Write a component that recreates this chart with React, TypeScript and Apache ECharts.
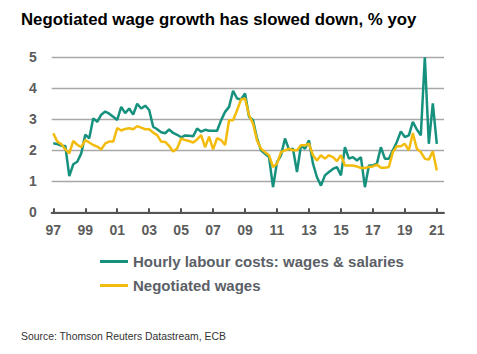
import React, { useEffect, useRef } from "react";
import * as echarts from "echarts";

// Quarterly data, 1997Q1 .. 2021Q1 (97 quarters)
const hourlyLabourCosts: number[] = [
  2.23, 2.2, 2.15, 2.14, 1.17, 1.55, 1.63, 1.9, 2.5, 2.39,
  3.03, 2.92, 3.15, 3.25, 3.18, 3.08, 2.98, 3.4, 3.2, 3.35,
  3.15, 3.5, 3.35, 3.44, 3.3, 2.76, 2.68, 2.58, 2.55, 2.67,
  2.56, 2.5, 2.42, 2.48, 2.47, 2.45, 2.7, 2.6, 2.66, 2.63,
  2.63, 2.63, 2.97, 3.24, 3.4, 3.92, 3.67, 3.64, 3.83, 3.08,
  2.97, 2.38, 2.0, 1.89, 1.78, 0.81, 1.62, 1.84, 2.38, 2.02,
  2.05, 1.3, 2.16, 2.05, 2.32, 1.57, 1.13, 0.86, 1.19, 1.3,
  1.4, 1.46, 1.19, 2.1, 1.73, 1.78, 1.67, 1.78, 0.81, 1.51,
  1.51, 1.57, 2.1, 1.73, 1.73, 2.0, 2.27, 2.61, 2.43, 2.48,
  2.92, 2.67, 2.48, 5.0, 2.21, 3.51, 2.21,
];

const negotiatedWages: number[] = [
  2.55, 2.28, 2.2, 2.03, 1.9, 2.3, 2.18, 2.1, 2.33, 2.25,
  2.17, 2.12, 2.03, 2.22, 2.28, 2.28, 2.72, 2.64, 2.69, 2.71,
  2.68, 2.78, 2.73, 2.68, 2.68, 2.57, 2.49, 2.28, 2.27, 2.14,
  1.96, 2.06, 2.38, 2.33, 2.3, 2.25, 2.35, 2.49, 2.1, 2.44,
  2.03, 2.39, 2.33, 2.17, 2.97, 2.97, 3.29, 3.64, 3.67, 3.13,
  2.86, 2.32, 2.05, 1.94, 1.84, 1.46, 1.57, 1.94, 2.0, 2.05,
  2.0, 2.0, 2.16, 2.16, 2.21, 1.84, 1.67, 1.84, 1.73, 1.84,
  1.78, 1.65, 1.84, 1.51, 1.51, 1.51, 1.48, 1.43, 1.43, 1.46,
  1.48, 1.54, 1.44, 1.44, 1.46, 1.94, 2.13, 2.13, 2.21, 2.0,
  2.56, 2.05, 1.94, 1.73, 1.7, 1.97, 1.35,
];

const startYear = 1997;
const tickYears: number[] = [1997, 1999, 2001, 2003, 2005, 2007, 2009, 2011, 2013, 2015, 2017, 2019, 2021];
const seriesNames = ["Hourly labour costs: wages & salaries", "Negotiated wages"];
const seriesColors = ["#16917e", "#f3bb0b"];

const toPoints = (vals: number[]) => vals.map((v, i) => [i / 4, v]);

export default function App() {
  const ref = useRef<HTMLDivElement>(null);
  useEffect(() => {
    if (!ref.current) return;
    const chart = echarts.init(ref.current, null, { renderer: "svg" });
    const tickOffsets = tickYears.map((y) => y - startYear);
    const axisFont = { fontFamily: "Liberation Sans", fontWeight: "bold", fontSize: 14, color: "#5c5c5c" };
    chart.setOption({
      animation: false,
      backgroundColor: "#ffffff",
      title: [
        {
          text: "Negotiated wage growth has slowed down, % yoy",
          left: 16,
          top: 6,
          textStyle: { fontFamily: "Liberation Sans", fontWeight: "bold", fontSize: 16.8, color: "#000" },
        },
        {
          text: "Source: Thomson Reuters Datastream, ECB",
          left: 16,
          top: 326,
          textStyle: { fontFamily: "Liberation Sans", fontWeight: "normal", fontSize: 10.4, color: "#333" },
        },
      ],
      legend: {
        orient: "vertical",
        left: 95,
        top: 249,
        itemWidth: 28,
        itemHeight: 3,
        itemGap: 9,
        icon: "rect",
        data: seriesNames,
        textStyle: { fontFamily: "Liberation Sans", fontWeight: "bold", fontSize: 15, color: "#5b6067" },
      },
      grid: { left: 51.7, top: 57.3, width: 392.3, height: 155 },
      xAxis: {
        type: "value",
        min: -0.1,
        max: 24.45,
        splitLine: { show: false },
        axisLine: { show: true, lineStyle: { color: "#555", width: 2 } },
        axisTick: {
          show: true,
          inside: true,
          length: 4,
          customValues: tickOffsets,
          lineStyle: { color: "#555", width: 2 },
        },
        axisLabel: {
          ...axisFont,
          margin: 11,
          customValues: tickOffsets,
          formatter: (v: number) => String((startYear + Math.round(v)) % 100).padStart(2, "0"),
        },
      },
      yAxis: {
        type: "value",
        min: 0,
        max: 5,
        interval: 1,
        axisLine: { show: false },
        axisTick: { show: false },
        axisLabel: { ...axisFont, margin: 15 },
        splitLine: { show: true, lineStyle: { color: "#a8a8a8", width: 1.3 } },
      },
      series: [
        {
          name: seriesNames[0],
          type: "line",
          data: toPoints(hourlyLabourCosts),
          showSymbol: false,
          color: seriesColors[0],
          lineStyle: { width: 2.5, color: seriesColors[0] },
        },
        {
          name: seriesNames[1],
          type: "line",
          data: toPoints(negotiatedWages),
          showSymbol: false,
          color: seriesColors[1],
          lineStyle: { width: 2.5, color: seriesColors[1] },
        },
      ],
    });
    return () => chart.dispose();
  }, []);
  return <div ref={ref} style={{ width: 477, height: 354, position: "absolute", left: 0, top: 0 }} />;
}
